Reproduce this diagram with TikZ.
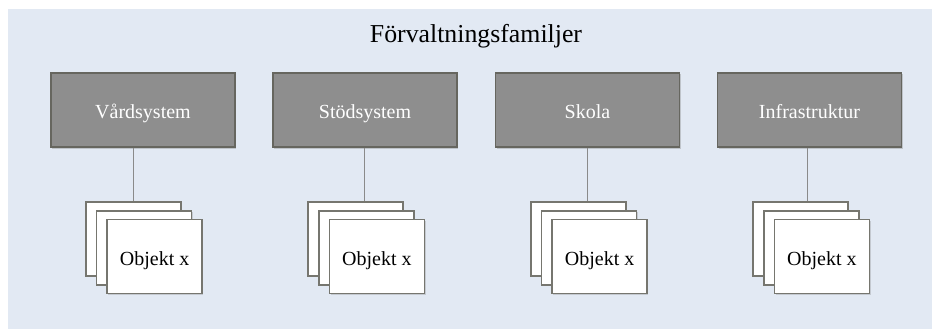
\documentclass[tikz,border=0pt]{standalone}
\usepackage{fontspec}
\setmainfont{Liberation Serif}
\usetikzlibrary{shadows}
\definecolor{panelbg}{HTML}{E2E9F3}
\definecolor{boxfill}{HTML}{8E8E8E}
\definecolor{boxedge}{HTML}{66665F}
\definecolor{cardedge}{HTML}{76766F}
\definecolor{linkcol}{HTML}{8A8A8A}
\tikzset{
  famboxstyle/.style={draw=boxedge, line width=1.4pt, fill=boxfill, minimum width=184pt, minimum height=74pt, inner sep=0pt, text height=17pt, text depth=0pt, text=white, font=\fontsize{20pt}{24pt}\selectfont, drop shadow={shadow xshift=1.2pt, shadow yshift=-1.5pt, opacity=0.35}},
  cardstyle/.style={draw=cardedge, line width=1.8pt, fill=white, minimum width=95pt, minimum height=74pt, inner sep=0pt, text height=17pt, text depth=0pt, anchor=north west, font=\fontsize{20pt}{24pt}\selectfont, drop shadow={shadow xshift=1.2pt, shadow yshift=-1.5pt, opacity=0.3}},
  linkstyle/.style={draw=linkcol, line width=0.9pt},
  titlestyle/.style={font=\fontsize{25.8pt}{30pt}\selectfont, inner sep=0pt, anchor=base}
}
\begin{document}
\begin{tikzpicture}[x=1pt,y=-1pt]
\useasboundingbox (0,0) rectangle (932,329);
\fill[white] (0,0) rectangle (932,329);
\fill[panelbg] (8,9) rectangle (932,329);
\node[titlestyle] (title) at (476,42.7) {Förvaltningsfamiljer};
% family boxes
\node[famboxstyle] (b1) at (143,110) {Vårdsystem};
\node[famboxstyle] (b2) at (365,110) {Stödsystem};
\node[famboxstyle] (b3) at (587.5,110) {Skola};
\node[famboxstyle] (b4) at (809.5,110) {Infrastruktur};
% link x positions
\coordinate (l1) at (133,0);
\coordinate (l2) at (364,0);
\coordinate (l3) at (587,0);
\coordinate (l4) at (807,0);
% card stacks
\foreach \i/\lx in {1/85, 2/307.3, 3/530, 4/752.3} {
  \node[cardstyle] (c\i a) at (\lx,201) {};
  \node[cardstyle] (c\i b) at (\lx+10.6,209.8) {};
  \node[cardstyle] (c\i c) at (\lx+21.2,218.6) {Objekt x};
}
% links
\draw[linkstyle] (b1.south -| l1) -- (c1a.north -| l1);
\draw[linkstyle] (b2.south -| l2) -- (c2a.north -| l2);
\draw[linkstyle] (b3.south -| l3) -- (c3a.north -| l3);
\draw[linkstyle] (b4.south -| l4) -- (c4a.north -| l4);
\end{tikzpicture}
\end{document}
